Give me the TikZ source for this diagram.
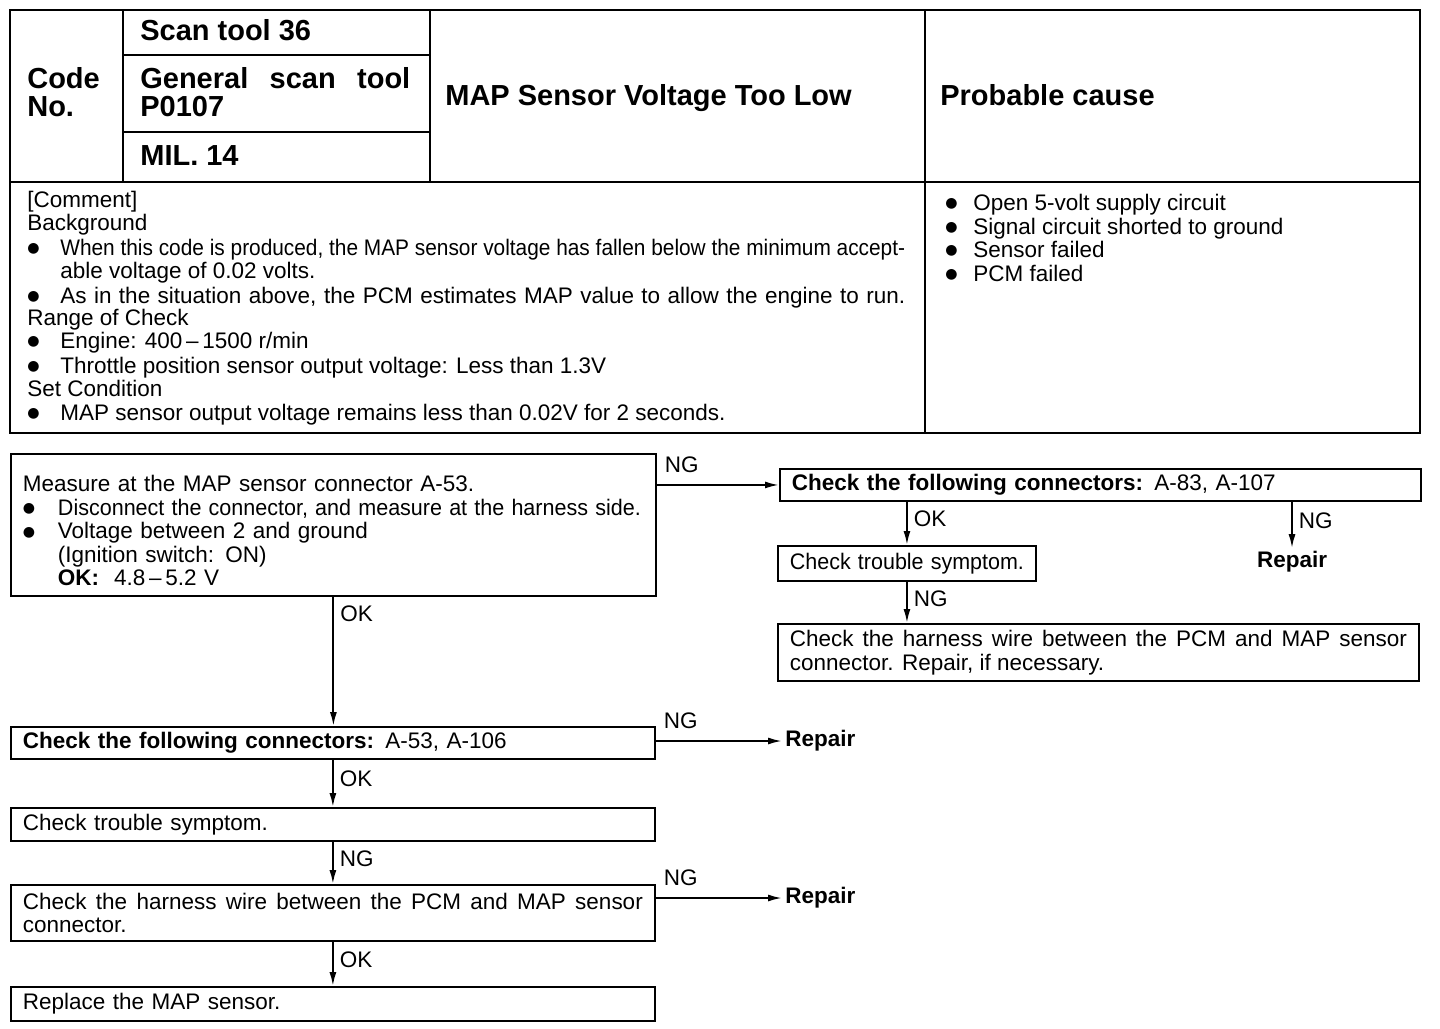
\documentclass[tikz,border=0pt]{standalone}
\usepackage{fontspec}
\setmainfont{Liberation Sans}
\newfontfamily\dotfont{DejaVu Sans}
\usepackage{graphicx}
\usetikzlibrary{arrows.meta}

\newcommand{\body}{\fontsize{12.8pt}{13.4pt}\selectfont}
\newcommand{\head}{\fontsize{16.5pt}{15.9pt}\selectfont\bfseries}
\newcommand{\bul}[1][0.7cm]{\makebox[#1][l]{\raisebox{0.1em}{\dotfont\fontsize{8pt}{0pt}\selectfont ●}}}

\begin{document}
\begin{tikzpicture}[x=0.02cm, y=-0.02cm, >={Latex[length=0.28cm, width=0.14cm]}, line cap=round,
  frame/.style={line width=1.5pt},
  rule/.style={line width=1.1pt},
  txt/.style={anchor=base west, inner sep=0pt, font=\body},
  hd/.style={anchor=base west, inner sep=0pt, font=\head},
  box/.style={draw, line width=1.1pt, anchor=north west, align=left, inner xsep=0.24cm, inner ysep=0pt, font=\body},
  lab/.style={font=\body, inner sep=0.06cm},
  rep/.style={font=\body\bfseries, inner sep=0.06cm}]
  \useasboundingbox (0,0) rectangle (1440,1028);

  % Header table
  \draw[frame] (10,10) rectangle (1420,433);
  \draw[rule] (10,182) -- (1420,182);
  \draw[rule] (123,10) -- (123,182);
  \draw[rule] (430,10) -- (430,182);
  \draw[rule] (925,10) -- (925,433);
  \draw[rule] (123,55) -- (430,55);
  \draw[rule] (123,132) -- (430,132);

  % Header texts
  \node[hd, anchor=west, align=left] (code) at (27,92) {Code\\No.};
  \node[hd] (scan) at (140,40) {Scan tool 36};
  \node[hd, anchor=west, align=left] (gen) at (140,92) {\makebox[5.4cm][s]{General scan tool}\\P0107};
  \node[hd] (mil) at (140,165) {MIL. 14};
  \node[hd] (title) at (445,105) {MAP Sensor Voltage Too Low};
  \node[hd] (cause) at (940,105) {Probable cause};

  % Comment
  \node[txt] (cm1) at (27,207) {[Comment]};
  \node[txt] (cm2) at (27,230) {Background};
  \node[txt] (cm3) at (27,255) {\bul[0.66cm]\resizebox{16.9cm}{\height}{When this code is produced, the MAP sensor voltage has fallen below the minimum accept-}};
  \node[txt] (cm4) at (60,278) {able voltage of 0.02 volts.};
  \node[txt] (cm5) at (27,303) {\bul[0.66cm]\makebox[16.9cm][s]{As in the situation above, the PCM estimates MAP value to allow the engine to run.}};
  \node[txt] (cm6) at (27,325) {Range of Check};
  \node[txt] (cm7) at (27,348) {\bul[0.66cm]Engine: 400\,--\,1500 r/min};
  \node[txt] (cm8) at (27,373) {\bul[0.66cm]Throttle position sensor output voltage: Less than 1.3V};
  \node[txt] (cm9) at (27,396) {Set Condition};
  \node[txt] (cm10) at (27,420) {\bul[0.66cm]MAP sensor output voltage remains less than 0.02V for 2 seconds.};

  % Probable causes
  \node[txt] (pc1) at (945,210) {\bul[0.56cm]Open 5-volt supply circuit};
  \node[txt] (pc2) at (945,234) {\bul[0.56cm]Signal circuit shorted to ground};
  \node[txt] (pc3) at (945,257) {\bul[0.56cm]Sensor failed};
  \node[txt] (pc4) at (945,281) {\bul[0.56cm]PCM failed};

  % Right branch
  \node[box, text width=12.42cm, minimum height=2.84cm] (meas) at (10,453) {\rule{0pt}{0.55cm}Measure at the MAP sensor connector A-53.\\
    \bul\resizebox{11.66cm}{\height}{Disconnect the connector, and measure at the harness side.}\\
    \bul Voltage between 2 and ground\\
    \hspace*{0.7cm}(Ignition switch: ON)\\
    \hspace*{0.7cm}\textbf{OK:}\ \ 4.8\,--\,5.2 V};
  \node[box, text width=12.34cm, minimum height=0.64cm] (conB) at (779,468) {\textbf{Check the following connectors:} A-83, A-107};
  \node[box, text width=4.68cm, minimum height=0.7cm] (symB) at (777,545) {\resizebox{4.68cm}{\height}{Check trouble symptom.}};
  \node[box, text width=12.34cm, minimum height=1.14cm, align=justify] (wireB) at (777,623) {Check the harness wire between the PCM and MAP sensor\linebreak connector. Repair, if necessary.};
  \node[rep] (repB) at (1292,562) {Repair};

  % Main column
  \node[box, text width=12.4cm, minimum height=0.64cm] (conA) at (10,726) {\textbf{Check the following connectors:} A-53, A-106};
  \node[box, text width=12.4cm, minimum height=0.66cm] (symA) at (10,807) {Check trouble symptom.};
  \node[box, text width=12.4cm, minimum height=1.12cm, align=justify] (wireA) at (10,884) {Check the harness wire between the PCM and MAP sensor\linebreak connector.};
  \node[box, text width=12.4cm, minimum height=0.68cm] (repl) at (10,986) {Replace the MAP sensor.};
  \node[rep, anchor=west] (repA1) at (782,741) {Repair};
  \node[rep, anchor=west] (repA2) at (782,898) {Repair};

  % Connectors
  \draw[->, rule] (meas.east |- conB.west) -- node[lab, pos=0, anchor=south west, xshift=0.08cm, yshift=0.16cm] {NG} (conB.west);
  \draw[->, rule] (meas.south) -- node[lab, pos=0.13, anchor=west, xshift=0.06cm] {OK} (meas.south |- conA.north);
  \draw[->, rule] (symB.north |- conB.south) -- node[lab, pos=0.4, anchor=west, xshift=0.06cm] {OK} (symB.north);
  \draw[->, rule] (repB.north |- conB.south) -- node[lab, pos=0.4, anchor=west, xshift=0.06cm] {NG} (repB.north);
  \draw[->, rule] (symB.south) -- node[lab, pos=0.4, anchor=west, xshift=0.06cm] {NG} (symB.south |- wireB.north);
  \draw[->, rule] (conA.east |- repA1.west) -- node[lab, pos=0, anchor=south west, xshift=0.08cm, yshift=0.16cm] {NG} (repA1.west);
  \draw[->, rule] (conA.south) -- node[lab, pos=0.4, anchor=west, xshift=0.06cm] {OK} (symA.north);
  \draw[->, rule] (symA.south) -- node[lab, pos=0.4, anchor=west, xshift=0.06cm] {NG} (wireA.north);
  \draw[->, rule] (wireA.east |- repA2.west) -- node[lab, pos=0, anchor=south west, xshift=0.08cm, yshift=0.16cm] {NG} (repA2.west);
  \draw[->, rule] (wireA.south) -- node[lab, pos=0.4, anchor=west, xshift=0.06cm] {OK} (repl.north);
\end{tikzpicture}
\end{document}
